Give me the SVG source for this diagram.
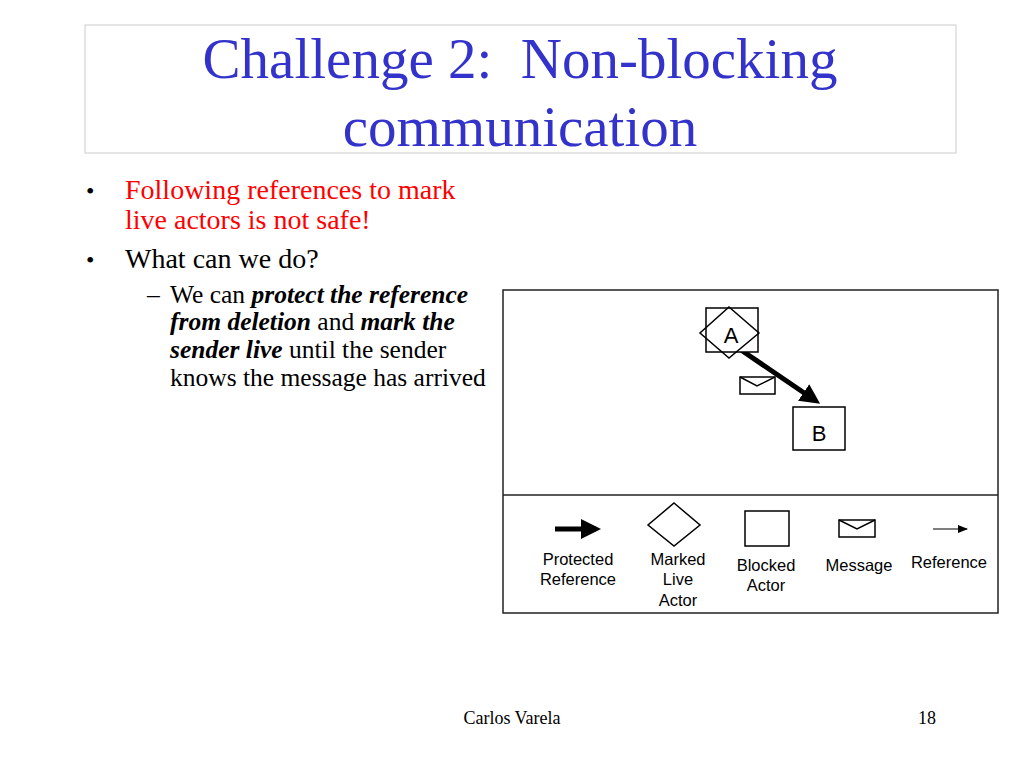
<svg xmlns="http://www.w3.org/2000/svg" width="1024" height="768" viewBox="0 0 1024 768">
<style>
.t{font-family:"Liberation Serif",serif}
.s{font-family:"Liberation Sans",sans-serif;font-size:16px;text-anchor:middle}
.sh{fill:#fff;stroke:#000;stroke-width:1.5}
</style>
<defs>
<marker id="hb" markerWidth="4" markerHeight="4" refX="3" refY="2" orient="auto"><path d="M0,0 L4,2 L0,4z"/></marker>
<marker id="ht" markerWidth="10" markerHeight="8" refX="9" refY="4" orient="auto" markerUnits="userSpaceOnUse"><path d="M0,0 L10,4 L0,8z"/></marker>
</defs>
<rect width="1024" height="768" fill="#fff"/>
<rect x="85" y="25" width="871" height="128" fill="#fff" stroke="#ccc"/>
<text class="t" x="520" y="78" font-size="57" fill="#3333cc" text-anchor="middle" xml:space="preserve">Challenge 2:  Non-blocking</text>
<text class="t" x="520" y="146" font-size="57" fill="#3333cc" text-anchor="middle">communication</text>
<g class="t" font-size="28">
<text x="86" y="199" font-size="24">•</text>
<text x="125" y="199" fill="#ff0000">Following references to mark</text>
<text x="125" y="229" fill="#ff0000">live actors is not safe!</text>
<text x="86" y="268" font-size="24">•</text>
<text x="125" y="268">What can we do?</text>
</g>
<g class="t" font-size="25.5">
<text x="147" y="303">–</text>
<text x="170" y="303">We can <tspan font-weight="bold" font-style="italic">protect the reference</tspan></text>
<text x="170" y="330"><tspan font-weight="bold" font-style="italic">from deletion</tspan> and <tspan font-weight="bold" font-style="italic">mark the</tspan></text>
<text x="170" y="358"><tspan font-weight="bold" font-style="italic">sender live</tspan> until the sender</text>
<text x="170" y="386">knows the message has arrived</text>
</g>
<rect x="503" y="290" width="495" height="323" fill="#fff" stroke="#222" stroke-width="1.5"/>
<line x1="503" y1="495" x2="998" y2="495" stroke="#222" stroke-width="1.5"/>
<g id="connectors">
<line x1="741" y1="350" x2="816" y2="401" stroke="#000" stroke-width="5" marker-end="url(#hb)"/>
<line x1="555" y1="529" x2="596" y2="529" stroke="#000" stroke-width="5" marker-end="url(#hb)"/>
<line x1="933" y1="529" x2="967" y2="529" stroke="#000" stroke-width="1.2" marker-end="url(#ht)"/>
</g>
<g id="A">
<rect class="sh" x="706" y="308" width="52" height="44"/>
<path d="M729,307 L759,333 L729,358 L700,333z" fill="none" stroke="#000" stroke-width="1.5"/>
<text class="s" x="731" y="343" style="font-size:22px">A</text>
</g>
<g id="B">
<rect class="sh" x="793" y="407" width="52" height="43"/>
<text class="s" x="819" y="441" style="font-size:22px">B</text>
</g>
<g id="msg">
<rect class="sh" x="740" y="377" width="35" height="17"/>
<path d="M740,377 L757,386 L775,377" fill="none" stroke="#000" stroke-width="1.5"/>
</g>
<g id="legend">
<path class="sh" d="M674,503 L700,525 L674,546 L648,525z"/>
<rect class="sh" x="745" y="511" width="44" height="35"/>
<rect class="sh" x="839" y="520" width="36" height="17"/>
<path d="M839,520 L857,529 L875,520" fill="none" stroke="#000" stroke-width="1.5"/>
<text class="s" x="578" y="565" style="font-size:16.5px">Protected</text>
<text class="s" x="578" y="585" style="font-size:16.5px">Reference</text>
<text class="s" x="678" y="565" style="font-size:16.5px">Marked</text>
<text class="s" x="678" y="585" style="font-size:16.5px">Live</text>
<text class="s" x="678" y="606" style="font-size:16.5px">Actor</text>
<text class="s" x="766" y="571" style="font-size:16.5px">Blocked</text>
<text class="s" x="766" y="591" style="font-size:16.5px">Actor</text>
<text class="s" x="859" y="571" style="font-size:16.5px">Message</text>
<text class="s" x="949" y="568" style="font-size:16.5px">Reference</text>
</g>
<text class="t" x="512" y="724" font-size="18" text-anchor="middle">Carlos Varela</text>
<text class="t" x="927" y="724" font-size="18" text-anchor="middle">18</text>
</svg>
